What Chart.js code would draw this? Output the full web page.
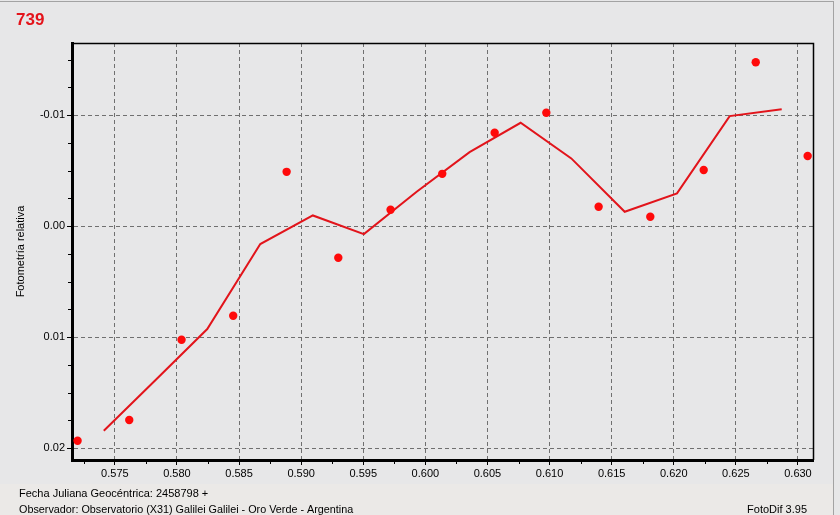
<!DOCTYPE html>
<html>
<head>
<meta charset="utf-8">
<script src="https://cdn.jsdelivr.net/npm/chart.js@4/dist/chart.umd.min.js"></script>
<style>
  html, body { margin: 0; padding: 0; background: #e7e7e8; }
  canvas { display: block; }
</style>
</head>
<body>
<canvas id="c" width="840" height="515"></canvas>
<script>
// ---- data ----
const obsX = [0.5720, 0.57616, 0.58037, 0.58453, 0.58883, 0.59299, 0.59720, 0.60136, 0.60558, 0.60974, 0.61395, 0.61811, 0.62241, 0.62660, 0.63078];
const obsY = [0.01934, 0.01748, 0.01024, 0.00808, -0.00489, 0.00286, -0.00147, -0.00471, -0.00841, -0.01021, -0.00174, -0.00084, -0.00505, -0.01477, -0.00631];
const trendX = [0.57411, 0.57828, 0.58244, 0.58671, 0.59094, 0.59505, 0.59930, 0.60356, 0.60767, 0.61175, 0.61605, 0.62026, 0.62450, 0.62869];
const trendY = [0.01844, 0.01387, 0.00928, 0.00162, -0.00096, 0.00072, -0.00309, -0.00667, -0.00931, -0.00610, -0.00129, -0.00295, -0.00991, -0.01054];
const xTicks = [0.575, 0.580, 0.585, 0.590, 0.595, 0.600, 0.605, 0.610, 0.615, 0.620, 0.625, 0.630];
const xMinorTicks = [0.5725, 0.5775, 0.5825, 0.5875, 0.5925, 0.5975, 0.6025, 0.6075, 0.6125, 0.6175, 0.6225, 0.6275];
const yTicks = [-0.01, 0.00, 0.01, 0.02];
const yMinorTicks = [-0.015, -0.0125, -0.0075, -0.005, -0.0025, 0.0025, 0.005, 0.0075, 0.0125, 0.015, 0.0175];
const titleText = '739';
const yTitle = 'Fotometría relativa';
const footLine1 = 'Fecha Juliana Geocéntrica: 2458798 +';
const footLine2 = 'Observador: Observatorio (X31) Galilei Galilei - Oro Verde - Argentina';
const footRight = 'FotoDif 3.95';

const FONT = '"Liberation Sans", Arial, sans-serif';

const decorPlugin = {
  id: 'decor',
  beforeDraw(chart) {
    const ctx = chart.ctx;
    ctx.save();
    ctx.fillStyle = '#e7e7e8';
    ctx.fillRect(0, 0, 840, 515);
    ctx.fillStyle = '#ebe9e7';
    ctx.fillRect(0, 484, 834, 31);
    ctx.strokeStyle = '#a3a3a3';
    ctx.lineWidth = 1;
    ctx.beginPath();
    ctx.moveTo(0, 1.5); ctx.lineTo(834, 1.5);
    ctx.moveTo(833.5, 1); ctx.lineTo(833.5, 515);
    ctx.stroke();
    ctx.restore();
  },
  afterDraw(chart) {
    const ctx = chart.ctx;
    const a = chart.chartArea;
    const xs = chart.scales.x, ys = chart.scales.y;
    ctx.save();
    // top and right frame
    ctx.strokeStyle = '#000';
    ctx.lineWidth = 1.5;
    ctx.beginPath();
    ctx.moveTo(a.left, a.top + 0.5); ctx.lineTo(a.right + 0.5, a.top + 0.5); ctx.lineTo(a.right + 0.5, a.bottom);
    ctx.stroke();
    // minor ticks
    ctx.lineWidth = 1;
    ctx.beginPath();
    xMinorTicks.forEach(v => {
      const px = Math.round(xs.getPixelForValue(v)) + 0.5;
      ctx.moveTo(px, a.bottom); ctx.lineTo(px, a.bottom + 4);
    });
    yMinorTicks.forEach(v => {
      const py = Math.round(ys.getPixelForValue(v)) + 0.5;
      ctx.moveTo(a.left - 4, py); ctx.lineTo(a.left, py);
    });
    ctx.stroke();
    // title
    ctx.fillStyle = '#e4141b';
    ctx.font = 'bold 17px ' + FONT;
    ctx.textAlign = 'left';
    ctx.textBaseline = 'alphabetic';
    ctx.fillText(titleText, 16, 25);
    // y title
    ctx.fillStyle = '#000';
    ctx.font = '11px ' + FONT;
    ctx.save();
    ctx.translate(20.5, (a.top + a.bottom) / 2);
    ctx.rotate(-Math.PI / 2);
    ctx.textAlign = 'center';
    ctx.textBaseline = 'middle';
    ctx.fillText(yTitle, 0, 0);
    ctx.restore();
    // footer
    ctx.textBaseline = 'middle';
    ctx.textAlign = 'left';
    ctx.font = '11px ' + FONT;
    ctx.fillText(footLine1, 19, 494);
    ctx.font = '10.8px ' + FONT;
    ctx.fillText(footLine2, 19, 510);
    ctx.textAlign = 'right';
    ctx.font = '11px ' + FONT;
    ctx.fillText(footRight, 807, 510);
    ctx.restore();
  }
};

new Chart(document.getElementById('c'), {
  type: 'scatter',
  data: {
    datasets: [
      {
        label: 'obs',
        data: obsX.map((x, i) => ({ x: x, y: obsY[i] })),
        showLine: false,
        pointRadius: 4.2,
        pointBackgroundColor: '#ff0a0a',
        pointBorderColor: '#ff0a0a',
        pointBorderWidth: 0,
        pointStyle: 'circle'
      },
      {
        label: 'trend',
        data: trendX.map((x, i) => ({ x: x, y: trendY[i] })),
        showLine: true,
        borderColor: '#e2141b',
        borderWidth: 2,
        pointRadius: 0,
        tension: 0,
        fill: false
      }
    ]
  },
  options: {
    responsive: false,
    animation: false,
    events: [],
    layout: { padding: { left: 0, top: 43, right: 27, bottom: 0 } },
    plugins: { legend: { display: false }, tooltip: { enabled: false }, title: { display: false } },
    scales: {
      x: {
        type: 'linear',
        min: 0.57155,
        max: 0.63121,
        afterBuildTicks: s => { s.ticks = xTicks.map(v => ({ value: v })); },
        afterFit: s => { s.height = 55; },
        ticks: {
          autoSkip: false,
          maxRotation: 0,
          padding: 2,
          color: '#000',
          font: { family: FONT, size: 11 },
          callback: v => Number(v).toFixed(3)
        },
        grid: {
          color: '#707070',
          lineWidth: 1,
          tickLength: 5,
          tickColor: '#000',
          tickWidth: 1
        },
        border: { display: true, color: '#000', width: 3, dash: [4, 3] }
      },
      y: {
        type: 'linear',
        reverse: true,
        min: -0.0165,
        max: 0.02108,
        afterBuildTicks: s => { s.ticks = yTicks.map(v => ({ value: v })); },
        afterFit: s => { s.width = 72; },
        ticks: {
          autoSkip: false,
          padding: 2,
          color: '#000',
          font: { family: FONT, size: 11 },
          callback: v => Number(v).toFixed(2)
        },
        grid: {
          color: '#707070',
          lineWidth: 1,
          tickLength: 5,
          tickColor: '#000',
          tickWidth: 1
        },
        border: { display: true, color: '#000', width: 3, dash: [4, 3] }
      }
    }
  },
  plugins: [decorPlugin]
});
</script>
</body>
</html>
